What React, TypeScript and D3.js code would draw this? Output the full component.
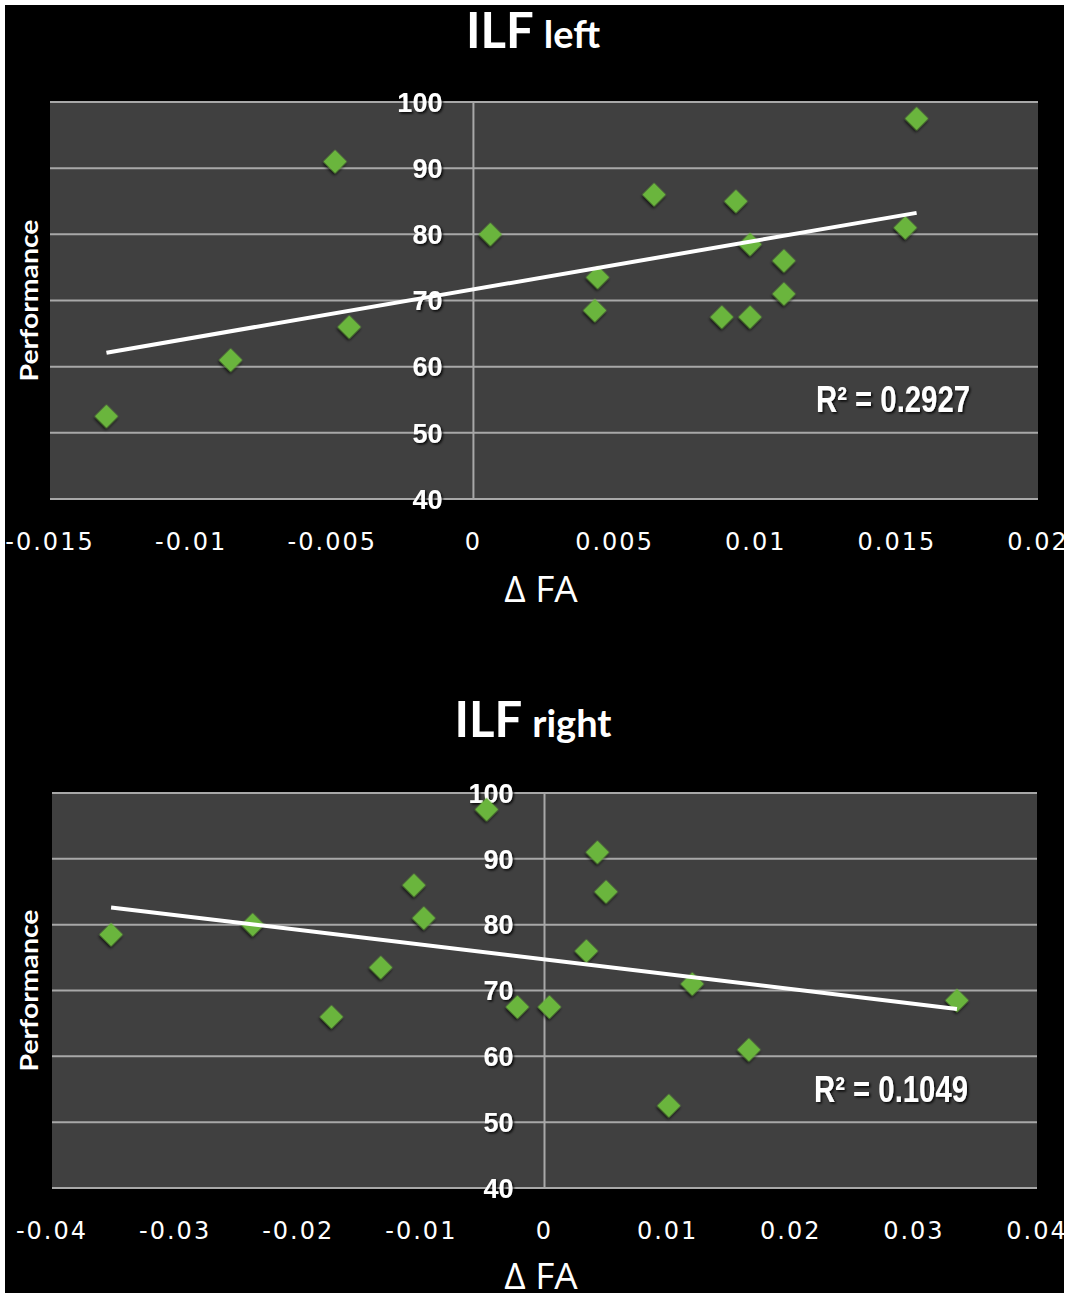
import React from 'react';
import * as d3 from 'd3';

// ILF left: change in FA vs performance
const leftFA = [-0.0130, -0.0086, -0.0049, -0.0044, 0.0006, 0.0044, 0.0043, 0.0064, 0.0088, 0.0093, 0.0098, 0.0098, 0.0110, 0.0110, 0.0153, 0.0157];
const leftPerf = [52.5, 61, 91, 66, 80, 73.5, 68.5, 86, 67.5, 85, 78.5, 67.5, 76, 71, 81, 97.5];
const leftTicks = [-0.015, -0.01, -0.005, 0, 0.005, 0.01, 0.015, 0.02];
const leftTickLabels = ['-0.015', '-0.01', '-0.005', '0', '0.005', '0.01', '0.015', '0.02'];

// ILF right
const rightFA = [-0.0352, -0.0237, -0.0173, -0.0133, -0.0106, -0.0098, -0.0047, -0.0022, 0.0004, 0.0034, 0.0043, 0.0050, 0.0101, 0.0120, 0.0166, 0.0335];
const rightPerf = [78.5, 80, 66, 73.5, 86, 81, 97.5, 67.5, 67.5, 76, 91, 85, 52.5, 71, 61, 68.5];
const rightTicks = [-0.04, -0.03, -0.02, -0.01, 0, 0.01, 0.02, 0.03, 0.04];
const rightTickLabels = ['-0.04', '-0.03', '-0.02', '-0.01', '0', '0.01', '0.02', '0.03', '0.04'];

const perfTicks = [40, 50, 60, 70, 80, 90, 100];

interface PanelProps {
    title: string;
    subtitle: string;
    xs: number[];
    ys: number[];
    xTicks: number[];
    xTickLabels: string[];
    r2Label: string;
    box: { left: number; right: number; top: number; bottom: number };
    titleY: number;
    tickY: number;
    axisTitleY: number;
    r2X: number;
    r2Y: number;
}

const diamond = d3.symbol(d3.symbolSquare, 275)() || '';

function linearFit(xs: number[], ys: number[]) {
    const mx = d3.mean(xs)!;
    const my = d3.mean(ys)!;
    let sxy = 0, sxx = 0;
    xs.forEach((x, i) => {
        sxy += (x - mx) * (ys[i] - my);
        sxx += (x - mx) * (x - mx);
    });
    const slope = sxy / sxx;
    return (x: number) => my + slope * (x - mx);
}

const ScatterPanel: React.FC<PanelProps> = ({
    title, subtitle, xs, ys, xTicks, xTickLabels, r2Label, box,
    titleY, tickY, axisTitleY, r2X, r2Y
}) => {
    const x = d3.scaleLinear()
        .domain(d3.extent(xTicks) as [number, number])
        .range([box.left, box.right]);
    const y = d3.scaleLinear()
        .domain([40, 100])
        .range([box.bottom, box.top]);

    const fit = linearFit(xs, ys);
    const [xmin, xmax] = d3.extent(xs) as [number, number];
    const trend = d3.line<number>()
        .x(d => x(d))
        .y(d => y(fit(d)))([xmin, xmax]) || '';

    const midY = (box.top + box.bottom) / 2;

    return (
        <g>
            <text x={533} y={titleY} textAnchor="middle" fill="#fff"
                fontFamily="Lato, 'Open Sans', sans-serif" fontWeight="bold">
                <tspan fontSize={49}>{title}</tspan>
                <tspan fontSize={38} dx={10}>{subtitle}</tspan>
            </text>

            <rect x={box.left} y={box.top} width={box.right - box.left}
                height={box.bottom - box.top} fill="#404040" />

            {perfTicks.map(t => (
                <line key={t} x1={box.left} x2={box.right} y1={y(t)} y2={y(t)}
                    stroke="#a8a8a8" strokeWidth={2} />
            ))}
            <line x1={x(0)} x2={x(0)} y1={box.top} y2={box.bottom}
                stroke="#a8a8a8" strokeWidth={2} />

            {perfTicks.map(t => (
                <text key={t} x={x(0) - 31} y={y(t)} dy="0.36em" textAnchor="end"
                    fill="#fff" fontSize={27} fontWeight="bold"
                    fontFamily="'Liberation Sans', Arial, sans-serif"
                    filter="url(#txtShadow)">{t}</text>
            ))}

            {xs.map((d, i) => (
                <path key={i} d={diamond}
                    transform={`translate(${x(d)},${y(ys[i])}) rotate(45)`}
                    fill="#6ab53c" filter="url(#markShadow)" />
            ))}

            <path d={trend} stroke="#fff" strokeWidth={4} fill="none" />

            <text x={r2X} y={r2Y} textAnchor="end" fill="#fff" fontSize={36}
                fontWeight="bold" fontFamily="'Liberation Sans', Arial, sans-serif"
                textLength={154} lengthAdjust="spacingAndGlyphs"
                filter="url(#txtShadow)">{r2Label}</text>

            {xTicks.map((t, i) => (
                <text key={t} x={x(t)} y={tickY} textAnchor="middle" fill="#fff"
                    fontSize={24} letterSpacing={2}
                    fontFamily="'DejaVu Sans', Verdana, sans-serif">{xTickLabels[i]}</text>
            ))}

            <text x={541} y={axisTitleY} textAnchor="middle" fill="#fff" fontSize={37}
                fontFamily="'Open Sans', Lato, sans-serif">Δ FA</text>

            <text transform={`translate(38,${midY}) rotate(-90)`} textAnchor="middle"
                fill="#fff" fontSize={25} fontWeight="bold"
                textLength={162} lengthAdjust="spacingAndGlyphs"
                fontFamily="Lato, 'Open Sans', sans-serif">Performance</text>
        </g>
    );
};

const App: React.FC = () => {
    return (
        <svg width={1072} height={1300}
            style={{ position: 'absolute', left: 0, top: 0, display: 'block' }}>
            <defs>
                <filter id="txtShadow" x="-10%" y="-20%" width="130%" height="150%">
                    <feDropShadow dx={1.5} dy={1.5} stdDeviation={1.2} floodColor="#000" floodOpacity={0.9} />
                </filter>
                <filter id="markShadow" x="-50%" y="-50%" width="200%" height="200%">
                    <feDropShadow dx={1} dy={2} stdDeviation={1.5} floodColor="#000" floodOpacity={0.8} />
                </filter>
            </defs>
            <rect width={1072} height={1300} fill="#fff" />
            <rect x={5} y={5} width={1059} height={1288} fill="#000" />

            <ScatterPanel
                title="ILF" subtitle="left"
                xs={leftFA} ys={leftPerf}
                xTicks={leftTicks} xTickLabels={leftTickLabels}
                r2Label="R² = 0.2927"
                box={{ left: 50, right: 1038, top: 102, bottom: 499 }}
                titleY={48} tickY={550} axisTitleY={602}
                r2X={970} r2Y={412}
            />
            <ScatterPanel
                title="ILF" subtitle="right"
                xs={rightFA} ys={rightPerf}
                xTicks={rightTicks} xTickLabels={rightTickLabels}
                r2Label="R² = 0.1049"
                box={{ left: 52, right: 1037, top: 793, bottom: 1188 }}
                titleY={737} tickY={1239} axisTitleY={1289}
                r2X={968} r2Y={1102}
            />
        </svg>
    );
};

export default App;
